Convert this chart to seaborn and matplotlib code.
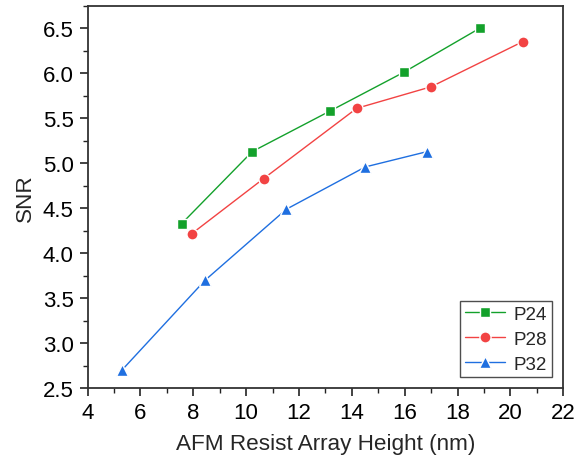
import matplotlib
matplotlib.use("Agg")
import matplotlib.pyplot as plt
import seaborn as sns
from matplotlib.ticker import MultipleLocator

# values
series_names = ["P24", "P28", "P32"]
p24_x = [7.56, 10.23, 13.17, 15.96, 18.84]
p24_y = [4.33, 5.13, 5.58, 6.01, 6.50]
p28_x = [7.95, 10.66, 14.18, 17.00, 20.46]
p28_y = [4.22, 4.83, 5.61, 5.85, 6.35]
p32_x = [5.32, 8.44, 11.52, 14.51, 16.85]
p32_y = [2.71, 3.70, 4.49, 4.96, 5.13]

colors = {"P24": "#13a12b", "P28": "#f24343", "P32": "#1f6fe0"}
markers = {"P24": "s", "P28": "o", "P32": "^"}
msizes = {"P24": 7.0, "P28": 8.0, "P32": 8.5}

sns.set_theme(style="ticks")
plt.rcParams["font.family"] = ["Liberation Sans", "DejaVu Sans"]

fig = plt.figure(figsize=(5.76, 4.64), dpi=100)
ax = fig.add_axes([0.152, 0.1606, 0.826, 0.825])

data = {"P24": (p24_x, p24_y), "P28": (p28_x, p28_y), "P32": (p32_x, p32_y)}
for name in series_names:
    xs, ys = data[name]
    sns.lineplot(x=xs, y=ys, ax=ax, color=colors[name], marker=markers[name],
                 markersize=msizes[name], markeredgecolor="white",
                 markeredgewidth=1.0, linewidth=1.0, label=name)

ax.set_xlim(4, 22)
ax.set_ylim(2.5, 6.75)
ax.xaxis.set_major_locator(MultipleLocator(2))
ax.xaxis.set_minor_locator(MultipleLocator(1))
ax.yaxis.set_major_locator(MultipleLocator(0.5))
ax.yaxis.set_minor_locator(MultipleLocator(0.25))
ax.yaxis.set_major_formatter(matplotlib.ticker.FormatStrFormatter("%.1f"))

ax.tick_params(axis="both", which="major", direction="out", length=6, width=1.2,
               labelsize=16, color="#222222", labelcolor="black", pad=4)
ax.tick_params(axis="both", which="minor", direction="out", length=3.5, width=1.0,
               color="#222222")
for s in ax.spines.values():
    s.set_visible(True)
    s.set_linewidth(1.3)
    s.set_color("#333333")

ax.set_xlabel("AFM Resist Array Height (nm)", fontsize=16.2, labelpad=7)
ax.set_ylabel("SNR", fontsize=16.2, labelpad=5)

leg = ax.legend(loc="lower right", fontsize=13.5, frameon=True, fancybox=False,
                edgecolor="#222222", handlelength=2.1, borderaxespad=0.6,
                labelspacing=0.42, handletextpad=0.5, borderpad=0.25)
leg.get_frame().set_linewidth(1.0)

fig.savefig("out.png", dpi=100)
